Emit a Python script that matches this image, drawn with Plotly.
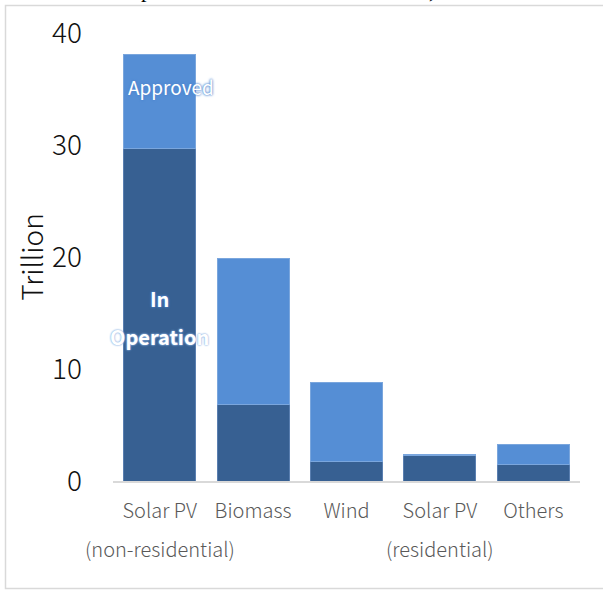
import plotly.graph_objects as go

categories = ["Solar PV", "Biomass", "Wind", "Solar PV", "Others"]
sublabels = ["(non-residential)", "", "", "(residential)", ""]
in_operation = [29.7, 6.8, 1.7, 2.3, 1.5]
approved = [8.4, 13.1, 7.1, 0.1, 1.8]
y_ticks = [0, 10, 20, 30, 40]

xs = list(range(len(categories)))

DARK = "#376092"
LIGHT = "#558ED5"

fig = go.Figure()
fig.add_trace(go.Bar(x=xs, y=in_operation, name="In Operation",
                     marker=dict(color=DARK, line=dict(color="#5a7fb0", width=1))))
fig.add_trace(go.Bar(x=xs, y=approved, name="Approved",
                     marker=dict(color=LIGHT, line=dict(color="#7aa6dd", width=1))))

L, R, T, B = 113, 23, 33, 109
W, H = 603, 590
pw, ph = W - L - R, H - T - B

def px(xp):
    return (xp - L) / pw

def py(yp):
    return (H - B - yp) / ph

FONT = "Noto Sans CJK JP"

fig.update_layout(
    width=W, height=H,
    barmode="stack", bargap=0.23,
    showlegend=False,
    plot_bgcolor="white", paper_bgcolor="white",
    margin=dict(l=L, r=R, t=T, b=B, pad=0),
    font=dict(family=FONT, color="#000000"),
    xaxis=dict(range=[-0.5, 4.5], tickvals=xs, ticktext=categories,
               showgrid=False, showline=True, linecolor="#d9d9d9", linewidth=1.5,
               ticks="", tickfont=dict(size=20, color="#595959", weight=300),
               ticklabelstandoff=11, zeroline=False),
    yaxis=dict(range=[0, 40], tickvals=y_ticks, showgrid=False, zeroline=False,
               showline=False, ticks="", tickfont=dict(size=28, color="#111111", weight=300),
               ticklabelstandoff=30,
               title=dict(text="Trillion", font=dict(size=28, color="#111111", weight=300),
                          standoff=0)),
)

for i, s in enumerate(sublabels):
    if s:
        fig.add_annotation(x=i, y=py(548), xref="x", yref="paper", text=s,
                           showarrow=False, font=dict(size=20, color="#595959", weight=300),
                           yanchor="middle")

glow = "0 0 3px #4f86cf, 0 0 2px #4f86cf"
fig.add_annotation(x=0.12, y=35.2, xref="x", yref="y", text="Approved", showarrow=False,
                   font=dict(size=19, color="white", shadow=glow))
fig.add_annotation(x=0, y=16.3, xref="x", yref="y", text="<b>In</b>", showarrow=False,
                   font=dict(size=20, color="white", shadow=glow))
fig.add_annotation(x=0, y=12.9, xref="x", yref="y", text="<b>Operation</b>", showarrow=False,
                   font=dict(size=20, color="white", shadow="0 0 2px #8fb4e3, 0 0 2px #8fb4e3"))

# partially visible text at the top edge
fig.add_annotation(x=px(140), y=py(3), xref="paper", yref="paper", text="p", showarrow=False,
                   yanchor="bottom", borderpad=0,
                   font=dict(family="Liberation Serif", size=22, color="#000000"))
fig.add_annotation(x=px(437), y=py(3), xref="paper", yref="paper", text=")", showarrow=False,
                   yanchor="bottom", borderpad=0,
                   font=dict(family="Liberation Serif", size=22, color="#000000"))

# outer frame
fig.add_shape(type="rect", xref="paper", yref="paper",
              x0=px(5.5), x1=px(612), y0=py(588.5), y1=py(5.5),
              line=dict(color="#d9d9d9", width=1.5), fillcolor="rgba(0,0,0,0)", layer="below")

fig.write_html("out.html")
